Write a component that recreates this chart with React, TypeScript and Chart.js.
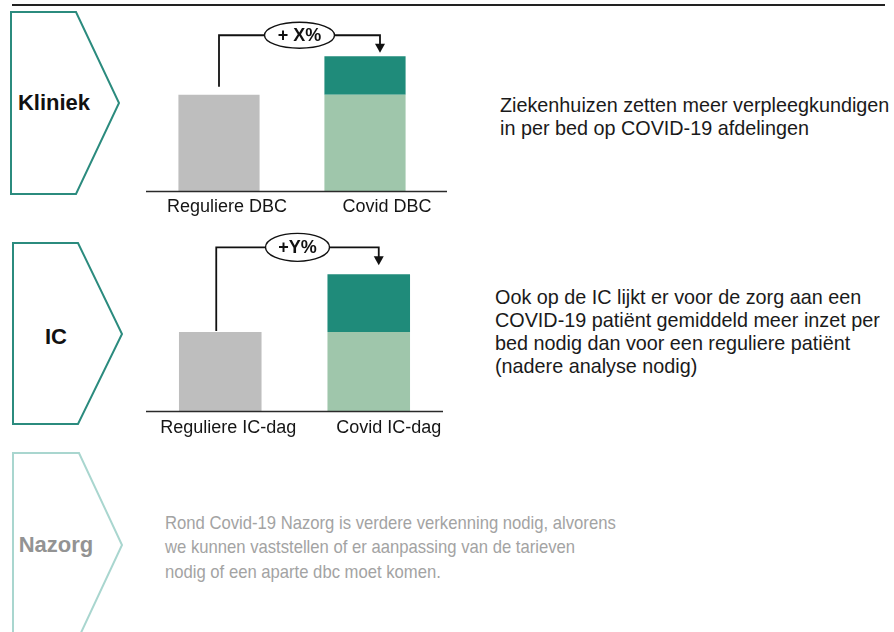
import React, { useEffect, useRef } from 'react';
import { Chart, registerables } from 'chart.js';

Chart.register(...registerables);

// ---- Data ----
const klinCategories = ['Reguliere DBC', 'Covid DBC'];
const klinBase = [100, 100];
const klinExtra = [0, 40];
const klinDelta = '+ X%';

const icCategories = ['Reguliere IC-dag', 'Covid IC-dag'];
const icBase = [100, 100];
const icExtra = [0, 73];
const icDelta = '+Y%';

const FONT = '"Liberation Sans", Arial, Helvetica, sans-serif';
const GRAY = '#bebebe';
const LIGHT = '#9fc6ab';
const DARK = '#1f8b7a';

type Geo = {
  left: number; top: number; width: number; height: number;
  pad: { left: number; right: number; top: number; bottom: number };
  yMax: number;
  startDx: number; startGap: number; rise: number; arrowDx: number; tipGap: number;
  rx: number; ry: number; axisExtend: number; labelOffsets: number[]; labelGap: number;
};

const annotatePlugin = {
  id: 'annotate',
  afterDraw(chart: any, _args: any, opts: any) {
    const ctx = chart.ctx as CanvasRenderingContext2D;
    const xs = chart.scales.x;
    const ys = chart.scales.y;
    const area = chart.chartArea;
    const cats: string[] = chart.data.labels;
    const base: number[] = chart.data.datasets[0].data;
    const extra: number[] = chart.data.datasets[1].data;
    ctx.save();
    // baseline
    ctx.strokeStyle = '#2a2a2a';
    ctx.lineWidth = 1.6;
    ctx.beginPath();
    ctx.moveTo(area.left, area.bottom + 0.5);
    ctx.lineTo(area.right + opts.axisExtend, area.bottom + 0.5);
    ctx.stroke();
    // category labels
    ctx.fillStyle = '#151515';
    ctx.font = `18px ${FONT}`;
    ctx.textAlign = 'center';
    ctx.textBaseline = 'middle';
    cats.forEach((c, i) => {
      ctx.fillText(c, xs.getPixelForValue(i) + opts.labelOffsets[i], area.bottom + opts.labelGap);
    });
    // connector
    const x0 = xs.getPixelForValue(0) + opts.startDx;
    const y0 = ys.getPixelForValue(base[0] + extra[0]) - opts.startGap;
    const covidTop = ys.getPixelForValue(base[1] + extra[1]);
    const yLine = covidTop - opts.rise;
    const x1 = xs.getPixelForValue(1) + opts.arrowDx;
    const yTip = covidTop - opts.tipGap;
    ctx.strokeStyle = '#111';
    ctx.lineWidth = 1.8;
    ctx.beginPath();
    ctx.moveTo(x0, y0);
    ctx.lineTo(x0, yLine);
    ctx.lineTo(x1, yLine);
    ctx.lineTo(x1, yTip - 8);
    ctx.stroke();
    ctx.fillStyle = '#111';
    ctx.beginPath();
    ctx.moveTo(x1 - 5, yTip - 9);
    ctx.lineTo(x1 + 5, yTip - 9);
    ctx.lineTo(x1, yTip);
    ctx.closePath();
    ctx.fill();
    // ellipse with delta label
    const cx = (x0 + x1) / 2;
    ctx.fillStyle = '#fff';
    ctx.lineWidth = 1.4;
    ctx.beginPath();
    ctx.ellipse(cx, yLine, opts.rx, opts.ry, 0, 0, Math.PI * 2);
    ctx.fill();
    ctx.stroke();
    ctx.fillStyle = '#111';
    ctx.font = `bold 18px ${FONT}`;
    ctx.fillText(opts.delta, cx, yLine + 1);
    ctx.restore();
  },
};

function BarPanel({ categories, base, extra, delta, geo }: {
  categories: string[]; base: number[]; extra: number[]; delta: string; geo: Geo;
}) {
  const ref = useRef<HTMLCanvasElement | null>(null);
  useEffect(() => {
    if (!ref.current) return;
    const chart = new Chart(ref.current, {
      type: 'bar',
      data: {
        labels: categories,
        datasets: [
          { data: base, backgroundColor: [GRAY, LIGHT], borderWidth: 0 },
          { data: extra, backgroundColor: DARK, borderWidth: 0 },
        ],
      },
      options: {
        responsive: false,
        maintainAspectRatio: false,
        animation: false,
        layout: { padding: geo.pad },
        datasets: { bar: { categoryPercentage: 1, barPercentage: 0.556 } },
        scales: {
          x: { stacked: true, display: false },
          y: { stacked: true, display: false, min: 0, max: geo.yMax },
        },
        plugins: {
          legend: { display: false },
          tooltip: { enabled: false },
          annotate: { ...geo, delta },
        } as any,
      },
      plugins: [annotatePlugin],
    });
    return () => chart.destroy();
  }, []);
  return (
    <canvas
      ref={ref}
      width={geo.width}
      height={geo.height}
      style={{ position: 'absolute', left: geo.left, top: geo.top, width: geo.width, height: geo.height }}
    />
  );
}

const klinGeo: Geo = {
  left: 140, top: 10, width: 320, height: 215,
  pad: { left: 6, right: 22, top: 27, bottom: 34 },
  yMax: 160,
  startDx: 0, startGap: 8, rise: 21, arrowDx: 15, tipGap: 3.5,
  rx: 35, ry: 13, axisExtend: 9, labelOffsets: [8, 22], labelGap: 16.5,
};

const icGeo: Geo = {
  left: 140, top: 225, width: 320, height: 220,
  pad: { left: 6, right: 17, top: 28, bottom: 34 },
  yMax: 200,
  startDx: -4, startGap: 1, rise: 27, arrowDx: 10, tipGap: 9,
  rx: 32, ry: 14, axisExtend: 0, labelOffsets: [8, 20], labelGap: 17,
};

const txt = (extra: React.CSSProperties): React.CSSProperties => ({
  position: 'absolute',
  fontFamily: FONT,
  whiteSpace: 'nowrap',
  margin: 0,
  ...extra,
});

export default function App() {
  return (
    <div style={{ position: 'absolute', left: 0, top: 0, width: 894, height: 632, background: '#fff', overflow: 'hidden' }}>
      <svg width={894} height={632} style={{ position: 'absolute', left: 0, top: 0 }}>
        <line x1={12} y1={5} x2={885} y2={5} stroke="#222" strokeWidth={2} />
        <polygon points="11,12 76,12 119,103 76,194 11,194" fill="none" stroke="#2b8b7e" strokeWidth={2} />
        <polygon points="13,243 78,243 122,334 78,424 13,424" fill="none" stroke="#2b8b7e" strokeWidth={2} />
        <polygon points="13,453 79,453 122,545 79,637 13,637" fill="none" stroke="#a9d6cf" strokeWidth={2} />
      </svg>

      <div style={txt({ left: 4, width: 100, top: 103 - 15, lineHeight: '30px', textAlign: 'center', fontWeight: 'bold', fontSize: 22, color: '#111' })}>Kliniek</div>
      <div style={txt({ left: 6, width: 100, top: 337 - 15, lineHeight: '30px', textAlign: 'center', fontWeight: 'bold', fontSize: 22, color: '#111' })}>IC</div>
      <div style={txt({ left: 6, width: 100, top: 545 - 15, lineHeight: '30px', textAlign: 'center', fontWeight: 'bold', fontSize: 22, color: '#939393' })}>Nazorg</div>

      <BarPanel categories={klinCategories} base={klinBase} extra={klinExtra} delta={klinDelta} geo={klinGeo} />
      <BarPanel categories={icCategories} base={icBase} extra={icExtra} delta={icDelta} geo={icGeo} />

      <div style={txt({ left: 500, top: 93.5, fontSize: 19.8, lineHeight: '23px', color: '#1a1a1a' })}>
        Ziekenhuizen zetten meer verpleegkundigen<br />in per bed op COVID-19 afdelingen
      </div>
      <div style={txt({ left: 495, top: 285.5, fontSize: 19.8, lineHeight: '23px', color: '#1a1a1a' })}>
        Ook op de IC lijkt er voor de zorg aan een<br />COVID-19 patiënt gemiddeld meer inzet per<br />bed nodig dan voor een reguliere patiënt<br />(nadere analyse nodig)
      </div>
      <div style={txt({ left: 165, top: 510.75, fontSize: 18.5, lineHeight: '24.5px', color: '#a3a3a3', transform: 'scaleX(0.9)', transformOrigin: 'left top' })}>
        Rond Covid-19 Nazorg is verdere verkenning nodig, alvorens<br />we kunnen vaststellen of er aanpassing van de tarieven<br />nodig of een aparte dbc moet komen.
      </div>
    </div>
  );
}
